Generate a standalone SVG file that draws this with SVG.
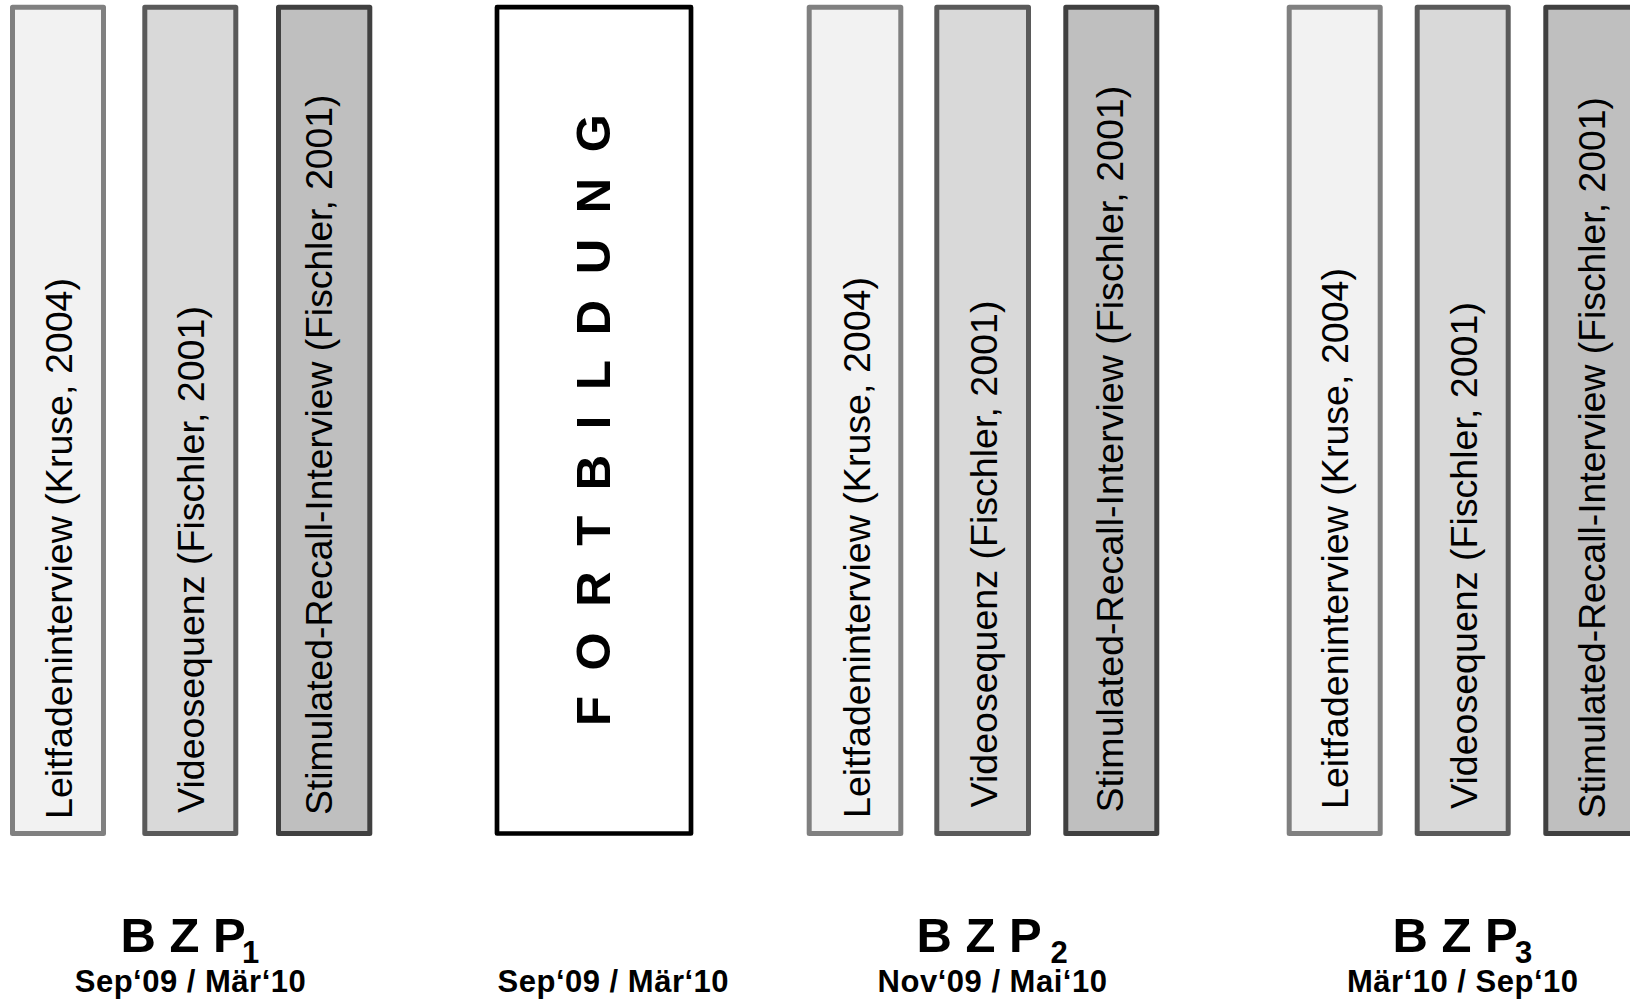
<svg xmlns="http://www.w3.org/2000/svg" width="1630" height="1002" viewBox="0 0 1630 1002">
<style>
.b1{fill:#f2f2f2;stroke:#808080;stroke-width:5;stroke-linejoin:round}
.b2{fill:#d9d9d9;stroke:#5a5a5a;stroke-width:5;stroke-linejoin:round}
.b3{fill:#bfbfbf;stroke:#404040;stroke-width:5;stroke-linejoin:round}
.fb{fill:#ffffff;stroke:#000000;stroke-width:4.7;stroke-linejoin:round}
.vt{font-family:"Liberation Sans",Arial,sans-serif;font-size:37.6px;fill:#000}
.ft{font-family:"Liberation Sans",Arial,sans-serif;font-size:49px;font-weight:bold;letter-spacing:6px;fill:#000}
.bzp{font-family:"Liberation Sans",Arial,sans-serif;font-size:49px;font-weight:bold;fill:#000}
.sub{font-size:31px}
.dt{font-family:"Liberation Sans",Arial,sans-serif;font-size:31px;letter-spacing:0.5px;font-weight:bold;fill:#000;text-anchor:middle}
</style>
<rect width="1630" height="1002" fill="#ffffff"/>
<g id="g1-leitfaden"><rect class="b1" x="12.5" y="7.2" width="91" height="826.3"/><text class="vt" transform="translate(71.5,819) rotate(-90)">Leitfadeninterview (Kruse, 2004)</text></g>
<g id="g1-video"><rect class="b2" x="144.8" y="7.2" width="91" height="826.3"/><text class="vt" transform="translate(204,813) rotate(-90)">Videosequenz (Fischler, 2001)</text></g>
<g id="g1-recall"><rect class="b3" x="278.5" y="7.2" width="91.3" height="826.3"/><text class="vt" style="font-size:37.25px" transform="translate(332,815) rotate(-90)">Stimulated-Recall-Interview (Fischler, 2001)</text></g>
<g id="fortbildung"><rect class="fb" x="497" y="7.2" width="194" height="826.3"/><text class="ft" transform="translate(610,726) rotate(-90)">F O R T B I L D U N G</text></g>
<g id="g2-leitfaden"><rect class="b1" x="809.2" y="7.2" width="91.6" height="826.3"/><text class="vt" transform="translate(870,818) rotate(-90)">Leitfadeninterview (Kruse, 2004)</text></g>
<g id="g2-video"><rect class="b2" x="936.8" y="7.2" width="91.7" height="826.3"/><text class="vt" transform="translate(996.7,807.5) rotate(-90)">Videosequenz (Fischler, 2001)</text></g>
<g id="g2-recall"><rect class="b3" x="1065.8" y="7.2" width="91" height="826.3"/><text class="vt" transform="translate(1123.3,812.5) rotate(-90)">Stimulated-Recall-Interview (Fischler, 2001)</text></g>
<g id="g3-leitfaden"><rect class="b1" x="1289.2" y="7.2" width="91" height="826.3"/><text class="vt" transform="translate(1348,809) rotate(-90)">Leitfadeninterview (Kruse, 2004)</text></g>
<g id="g3-video"><rect class="b2" x="1417.2" y="7.2" width="91" height="826.3"/><text class="vt" transform="translate(1476.5,809) rotate(-90)">Videosequenz (Fischler, 2001)</text></g>
<g id="g3-recall"><rect class="b3" x="1545.8" y="7.2" width="91" height="826.3"/><text class="vt" style="font-size:37.3px" transform="translate(1605,818.5) rotate(-90)">Stimulated-Recall-Interview (Fischler, 2001)</text></g>
<g id="label-bzp1"><text class="bzp" x="120.4" y="951.5">B Z P<tspan class="sub" x="242" y="963.3">1</tspan></text><text class="dt" x="190.5" y="991.7">Sep‘09 / Mär‘10</text></g>
<g id="label-fortbildung"><text class="dt" x="613.3" y="991.7">Sep‘09 / Mär‘10</text></g>
<g id="label-bzp2"><text class="bzp" x="916.4" y="951.5">B Z P<tspan class="sub" x="1050.5" y="963.3">2</tspan></text><text class="dt" x="992.5" y="991.7">Nov‘09 / Mai‘10</text></g>
<g id="label-bzp3"><text class="bzp" x="1392.4" y="951.5">B Z P<tspan class="sub" x="1515" y="963.3">3</tspan></text><text class="dt" x="1462.8" y="991.7">Mär‘10 / Sep‘10</text></g>
<g id="connectors"></g>
</svg>
